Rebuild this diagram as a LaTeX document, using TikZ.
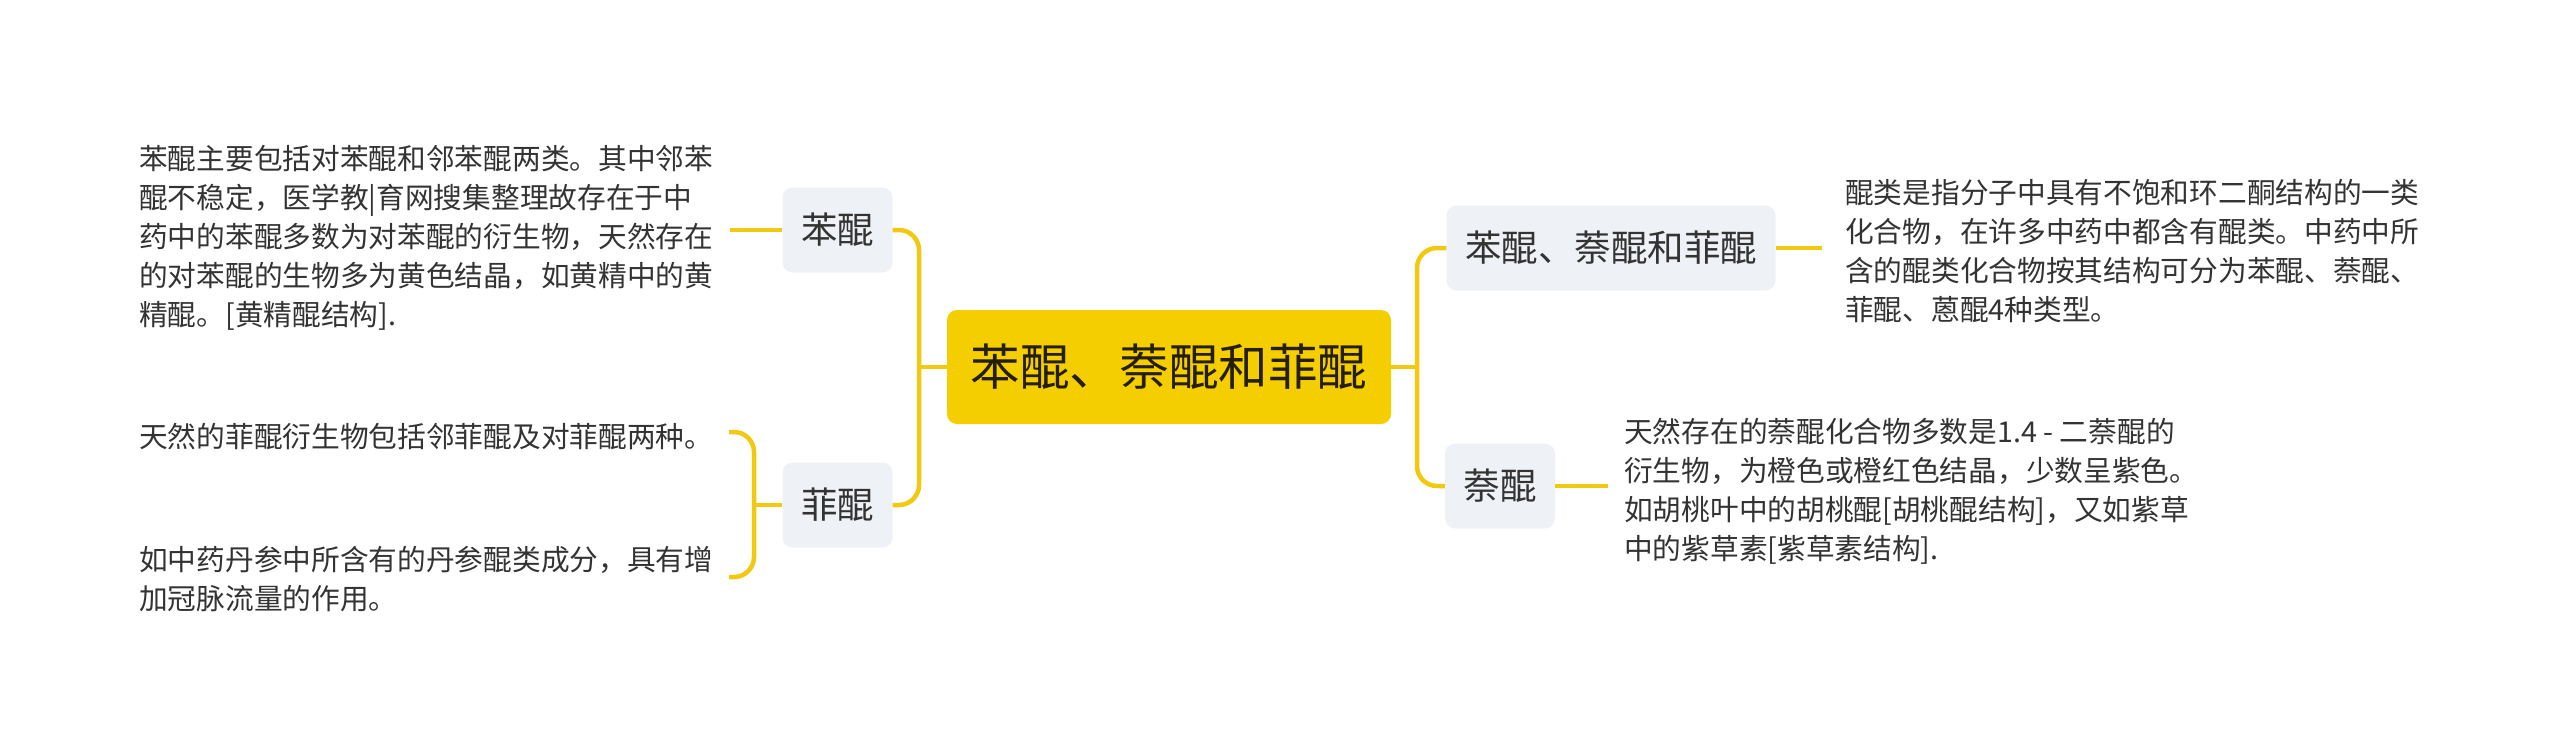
\documentclass[tikz,border=0pt]{standalone}
\usepackage{fontspec}
\setmainfont{Noto Sans CJK SC}
\usepackage{tikz}
\definecolor{rootfill}{RGB}{245,206,0}
\definecolor{linecol}{RGB}{242,200,17}
\definecolor{topicfill}{RGB}{238,241,245}
\definecolor{txtcol}{RGB}{51,51,51}
\tikzset{
	root/.style={fill=rootfill,rounded corners=10pt,minimum width=444pt,minimum height=114pt,inner sep=0pt,text=black!85!rootfill,font=\fontsize{49.6}{58}\selectfont},
	topic/.style={fill=topicfill,rounded corners=10pt,minimum height=85pt,inner xsep=18.5pt,inner ysep=0pt,text=txtcol,font=\fontsize{36.5}{44}\selectfont},
	note/.style={anchor=west,align=left,inner sep=0pt,text=txtcol,font=\fontsize{28.7}{39}\selectfont},
	link/.style={draw=linecol,line width=4.5pt,rounded corners=20pt}
}
\begin{document}
\begin{tikzpicture}[x=1pt,y=-1pt]
		\useasboundingbox (0,0) rectangle (2560,753);
		\node (root) at (1169,367)[root]{苯醌、萘醌和菲醌};
		\node (benq) at (837.5,230)[topic]{苯醌};
		\node (feiq) at (837.5,505)[topic]{菲醌};
		\node (all) at (1611,248)[topic]{苯醌、萘醌和菲醌};
		\node (naiq) at (1500,486)[topic]{萘醌};
		\node (n1) at (139,238)[note]{苯醌主要包括对苯醌和邻苯醌两类。其中邻苯\\醌不稳定，医学教|育网搜集整理故存在于中\\药中的苯醌多数为对苯醌的衍生物，天然存在\\的对苯醌的生物多为黄色结晶，如黄精中的黄\\精醌。[黄精醌结构].};
		\node (n2) at (139,436)[note]{天然的菲醌衍生物包括邻菲醌及对菲醌两种。};
		\node (n3) at (139,579.5)[note]{如中药丹参中所含有的丹参醌类成分，具有增\\加冠脉流量的作用。};
		\node (n4) at (1845,251.5)[note]{醌类是指分子中具有不饱和环二酮结构的一类\\化合物，在许多中药中都含有醌类。中药中所\\含的醌类化合物按其结构可分为苯醌、萘醌、\\菲醌、蒽醌4种类型。};
		\node (n5) at (1624,491.5)[note]{天然存在的萘醌化合物多数是1.4 - 二萘醌的\\衍生物，为橙色或橙红色结晶，少数呈紫色。\\如胡桃叶中的胡桃醌[胡桃醌结构]，又如紫草\\中的紫草素[紫草素结构].};
		% junctions and free ends
		\coordinate (lj) at (919,367);
		\coordinate (rj) at (1417,367);
		\coordinate (fj) at (754,505);
		\coordinate (e1) at (730,230);
		\coordinate (e2) at (729,432);
		\coordinate (e3) at (729,577);
		\coordinate (e4) at (1822,248);
		\coordinate (e5) at (1608,486);
		% left side
		\draw[link] (root.west) -- (lj);
		\draw[link] (lj) |- (benq.east);
		\draw[link] (lj) |- (feiq.east);
		\draw[link] (benq.west) -- (e1);
		\draw[link] (feiq.west) -- (fj);
		\draw[link] (e2) -| (fj) |- (e3);
		% right side
		\draw[link] (root.east) -- (rj);
		\draw[link] (rj) |- (all.west);
		\draw[link] (rj) |- (naiq.west);
		\draw[link] (all.east) -- (e4);
		\draw[link] (naiq.east) -- (e5);
\end{tikzpicture}
\end{document}
